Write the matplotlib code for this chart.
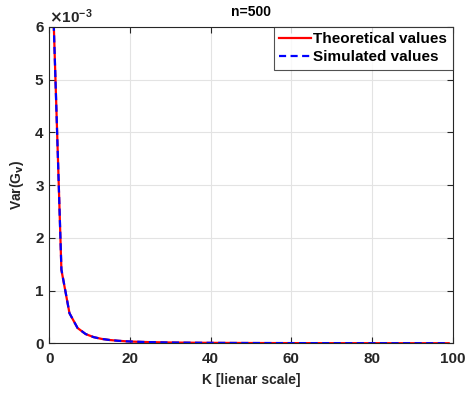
import matplotlib
matplotlib.use("Agg")
import matplotlib.pyplot as plt
from matplotlib.ticker import ScalarFormatter

# Number of clusters K (odd values) and variance of G_v, in units of 1e-3
K = [1, 3, 5, 7, 9, 11, 13, 15, 17, 19, 21, 23, 25, 27, 29, 31, 33, 35, 37, 39,
     41, 43, 45, 47, 49, 51, 53, 55, 57, 59, 61, 63, 65, 67, 69, 71, 73, 75, 77, 79,
     81, 83, 85, 87, 89, 91, 93, 95, 97, 99]
theoretical_e3 = [6.30, 1.39, 0.57, 0.29, 0.175, 0.117, 0.083, 0.062, 0.048, 0.038,
                  0.031, 0.026, 0.022, 0.019, 0.016, 0.014, 0.0125, 0.011, 0.0099, 0.0089,
                  0.0080, 0.0073, 0.0066, 0.0060, 0.0055, 0.0051, 0.0047, 0.0044, 0.0041, 0.0038,
                  0.0036, 0.0034, 0.0032, 0.0030, 0.0028, 0.0027, 0.0025, 0.0024, 0.0023, 0.0022,
                  0.0021, 0.0020, 0.0019, 0.0018, 0.0017, 0.0017, 0.0016, 0.0015, 0.0015, 0.0014]
simulated_e3 = [6.28, 1.40, 0.57, 0.29, 0.176, 0.116, 0.083, 0.062, 0.048, 0.038,
                0.031, 0.026, 0.022, 0.019, 0.016, 0.014, 0.0125, 0.011, 0.0099, 0.0089,
                0.0080, 0.0073, 0.0066, 0.0060, 0.0055, 0.0051, 0.0047, 0.0044, 0.0041, 0.0038,
                0.0036, 0.0034, 0.0032, 0.0030, 0.0028, 0.0027, 0.0025, 0.0024, 0.0023, 0.0022,
                0.0021, 0.0020, 0.0019, 0.0018, 0.0017, 0.0017, 0.0016, 0.0015, 0.0015, 0.0014]

theoretical = [v * 1e-3 for v in theoretical_e3]
simulated = [v * 1e-3 for v in simulated_e3]

plt.rcParams['font.family'] = ['Liberation Sans', 'DejaVu Sans']
plt.rcParams['font.weight'] = 'bold'
plt.rcParams['mathtext.default'] = 'bf'

fig = plt.figure(figsize=(4.67, 3.94), dpi=100)
ax = fig.add_axes([0.1056, 0.1287, 0.8638, 0.8028])

ax.plot(K, theoretical, color='red', lw=1.6, label='Theoretical values')
ax.plot(K, simulated, color='blue', lw=1.6, linestyle=(0, (3.2, 2.0)),
        label='Simulated values')

ax.set_xlim(0, 100)
ax.set_ylim(0, 6e-3)
ax.set_xticks([0, 20, 40, 60, 80, 100])
ax.set_yticks([0, 1e-3, 2e-3, 3e-3, 4e-3, 5e-3, 6e-3])

fmt = ScalarFormatter(useMathText=True)
fmt.set_powerlimits((-2, 2))
ax.yaxis.set_major_formatter(fmt)
ax.yaxis.get_offset_text().set_fontsize(11)
ax.yaxis.get_offset_text().set_fontweight('bold')

ax.grid(True, color='#e3e3e3', lw=0.8)
ax.set_axisbelow(True)
ax.tick_params(direction='in', top=True, right=True, labelsize=11,
               length=4, width=0.8, colors='#262626', labelcolor='#262626')
ax.tick_params(axis='x', pad=6)
for side in ax.spines.values():
    side.set_color('#262626')
    side.set_linewidth(0.8)

ax.set_title('n=500', fontsize=10, fontweight='bold', pad=8)
ax.set_xlabel('K [lienar scale]', fontsize=10, fontweight='bold', color='#262626',
              labelpad=5)
ax.set_ylabel('Var(G$_v$)', fontsize=10, fontweight='bold', color='#262626',
              labelpad=6)

leg = ax.legend(loc='upper right', borderaxespad=0, fontsize=11,
                frameon=True, fancybox=False, handlelength=2.1,
                handletextpad=0.15, borderpad=0.35, labelspacing=0.25)
leg.get_frame().set_edgecolor('#262626')
leg.get_frame().set_linewidth(0.8)
for t in leg.get_texts():
    t.set_fontweight('bold')

fig.savefig('out.png', dpi=100)
